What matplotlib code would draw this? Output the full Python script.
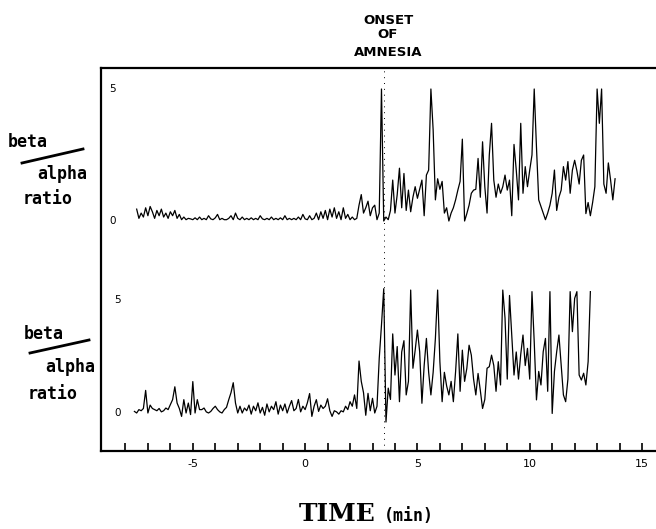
import numpy as np
import matplotlib
matplotlib.use("Agg")
import matplotlib.pyplot as plt
from matplotlib.lines import Line2D

step = 0.1
top_start = -7.5
top_ratio = [
    0.45, 0.1, 0.3, 0.15, 0.5, 0.2, 0.55, 0.35, 0.1, 0.4,
    0.2, 0.45, 0.15, 0.3, 0.1, 0.35, 0.2, 0.4, 0.1, 0.25,
    0.05, 0.15, 0.05, 0.1, 0.08, 0.05, 0.12, 0.05, 0.15, 0.05,
    0.1, 0.05, 0.2, 0.08, 0.05, 0.12, 0.25, 0.05, 0.1, 0.05,
    0.05, 0.1, 0.2, 0.05, 0.3, 0.1, 0.05, 0.15, 0.05, 0.1,
    0.05, 0.12, 0.05, 0.1, 0.05, 0.2, 0.08, 0.05, 0.1, 0.05,
    0.15, 0.05, 0.1, 0.05, 0.12, 0.05, 0.2, 0.05, 0.1, 0.05,
    0.1, 0.05, 0.15, 0.05, 0.25, 0.08, 0.05, 0.2, 0.05, 0.1,
    0.3, 0.05, 0.35, 0.1, 0.4, 0.05, 0.45, 0.15, 0.5, 0.1,
    0.35, 0.05, 0.5, 0.1, 0.25, 0.05, 0.15, 0.05, 0.1, 0.6,
    1.0, 0.3, 0.5, 0.75, 0.2, 0.5, 0.6, 0.05, 0.3, 5.0,
    0.0, 0.15, 0.05, 0.4, 1.55, 0.3, 1.0, 2.0, 0.5, 1.8,
    0.4, 1.17, 0.35, 0.9, 1.3, 0.86, 1.2, 1.55, 0.2, 1.74,
    1.93, 5.0, 3.45, 0.8, 1.6, 1.2, 1.5, 0.3, 0.5, 0.0,
    0.3, 0.5, 0.8, 1.17, 1.5, 3.1, 0.0, 0.28, 0.6, 1.05,
    1.17, 1.2, 2.37, 0.9, 3.0, 1.3, 0.3, 2.5, 3.7, 1.55,
    0.9, 1.4, 1.05, 1.3, 1.74, 1.17, 1.55, 0.2, 2.9, 1.93,
    0.8, 3.7, 1.05, 2.06, 1.3, 1.93, 2.5, 5.0, 2.8, 0.8,
    0.55, 0.3, 0.05, 0.3, 0.6, 1.05, 1.93, 0.4, 0.9, 1.17,
    2.06, 1.55, 2.25, 1.05, 1.93, 2.3, 1.9, 1.4, 2.3, 2.5,
    0.28, 0.7, 0.2, 0.7, 1.3, 5.0, 3.7, 5.0, 1.4, 1.05,
    2.2, 1.55, 0.8, 1.6,
]

bottom_start = -7.6
bottom_ratio = [
    0.07, 0.0, 0.15, 0.1, 0.2, 1.0, 0.0, 0.35, 0.2, 0.15,
    0.1, 0.2, 0.05, 0.1, 0.22, 0.15, 0.37, 0.59, 1.16, 0.44,
    0.2, -0.15, 0.59, 0.0, 0.44, -0.07, 1.39, 0.0, 0.59, 0.15,
    0.15, 0.22, 0.05, 0.0, 0.07, 0.2, 0.3, 0.15, 0.05, 0.0,
    0.15, 0.25, 0.59, 0.9, 1.34, 0.44, 0.0, 0.3, 0.0, 0.22,
    0.1, 0.35, -0.05, 0.3, 0.1, 0.45, 0.0, 0.25, -0.1, 0.4,
    0.05, 0.3, 0.15, 0.5, -0.05, 0.35, 0.1, 0.4, 0.0, 0.3,
    0.55, 0.1, 0.2, 0.6, 0.05, 0.3, 0.15, 0.45, 0.86, -0.15,
    0.3, 0.59, 0.07, 0.35, 0.2, 0.3, 0.63, 0.1, -0.15, 0.1,
    0.05, -0.05, 0.1, 0.05, 0.3, 0.15, 0.5, 0.3, 0.8, 0.2,
    2.3, 1.4, 0.9, -0.1, 0.87, 0.1, 0.65, 0.0, 0.3, 2.42,
    3.9, 5.5, -0.4, 1.1, 0.6, 3.5, 1.68, 2.94, 0.5, 2.7,
    3.2, 0.8, 1.4, 5.44, 1.98, 2.78, 3.67, 2.71, 0.43, 2.1,
    3.3, 1.8, 0.8, 1.8, 3.3, 5.44, 2.27, 0.5, 1.8, 1.2,
    0.8, 1.4, 0.5, 1.84, 3.5, 0.96, 2.78, 1.4, 1.98, 3.0,
    2.56, 1.5, 0.8, 1.75, 1.0, 0.2, 0.6, 1.98, 2.05, 2.56,
    2.1, 0.96, 2.27, 1.24, 5.44, 4.2, 1.5, 5.2, 3.45, 1.68,
    2.7, 1.5, 2.6, 3.45, 2.1, 2.86, 1.5, 5.37, 3.15, 0.58,
    1.84, 1.24, 2.71, 3.3, 0.96, 5.37, -0.02, 1.84, 2.71, 3.45,
    2.12, 0.8, 0.5, 1.5, 5.37, 3.6, 5.07, 5.37, 1.68, 1.46,
    1.76, 1.24, 2.27, 5.37,
]

onset = 3.5
x_ticks = list(range(-8, 16))
x_labeled = [-5, 0, 5, 10, 15]
y_labels = [0, 5]

top_t = top_start + step * np.arange(len(top_ratio))
bottom_t = bottom_start + step * np.arange(len(bottom_ratio))

W, H = 656, 529


def box(x0, y0, x1, y1):
    # pixel box -> figure fraction rect
    return [x0 / W, 1 - y1 / H, (x1 - x0) / W, (y1 - y0) / H]


fig = plt.figure(figsize=(W / 100, H / 100), dpi=100)
xlim = (-9.11, 15.8)

# frame with the time axis
ax = fig.add_axes(box(100.5, 68, 660, 451))
ax.set_xlim(*xlim)
ax.set_ylim(0, 1)
ax.spines['right'].set_visible(False)
for s in ('top', 'left', 'bottom'):
    ax.spines[s].set_linewidth(1.6)
ax.set_yticks([])
ax.set_xticks(x_ticks)
ax.set_xticklabels([str(t) if t in x_labeled else '' for t in x_ticks])
ax.tick_params(axis='x', direction='in', length=5.5, width=1.2, labelsize=8, pad=6)
ax.axvline(onset, color='k', lw=0.7, ls=(0, (1, 5)))

# the two traces
ax_top = fig.add_axes(box(100.5, 68, 660, 260))
ax_top.set_ylim(-(260 - 221) / 26.4, (221 - 68) / 26.4)
ax_bot = fig.add_axes(box(100.5, 260, 660, 451))
ax_bot.set_ylim(-(451 - 413) / 22.6, (413 - 260) / 22.6)

for a, t, v, lx in ((ax_top, top_t, top_ratio, 0.022), (ax_bot, bottom_t, bottom_ratio, 0.03)):
    a.set_xlim(*xlim)
    a.axis('off')
    a.patch.set_alpha(0)
    a.plot(t, v, color='k', lw=0.9)
    for yv in y_labels:
        a.text(lx, yv, str(yv), transform=a.get_yaxis_transform(),
               ha='center', va='center', fontsize=7.5)

# onset label
for txt, yy in (('ONSET', 20), ('OF', 35), ('AMNESIA', 52)):
    fig.text(388 / W, 1 - yy / H, txt, ha='center', va='center',
             fontsize=9.5, fontweight='bold', family='DejaVu Sans')

# beta / alpha ratio labels
mono = dict(family='DejaVu Sans Mono', fontweight='bold', fontsize=12, ha='center', va='center')
for (bx, by), (sx0, sy0, sx1, sy1), (ax_, ay_), (rx, ry) in (
        ((27.5, 142), (22, 163, 83, 149), (62.5, 174), (48, 199)),
        ((43.5, 334), (30, 353, 89, 340), (70.5, 367), (53, 394))):
    fig.text(bx / W, 1 - by / H, 'beta', **mono)
    fig.text(ax_ / W, 1 - ay_ / H, 'alpha', **mono)
    fig.text(rx / W, 1 - ry / H, 'ratio', **mono)
    fig.add_artist(Line2D([sx0 / W, sx1 / W], [1 - sy0 / H, 1 - sy1 / H],
                          color='k', lw=2.0, transform=fig.transFigure))

# x axis title
fig.text(376 / W, 1 - 521 / H, 'TIME', ha='right', va='baseline',
         fontsize=18, fontweight='bold', family='DejaVu Serif')
fig.text(384 / W, 1 - 521 / H, '(min)', ha='left', va='baseline',
         fontsize=12, fontweight='bold', family='DejaVu Sans Mono')

fig.savefig('out.png', dpi=100)
